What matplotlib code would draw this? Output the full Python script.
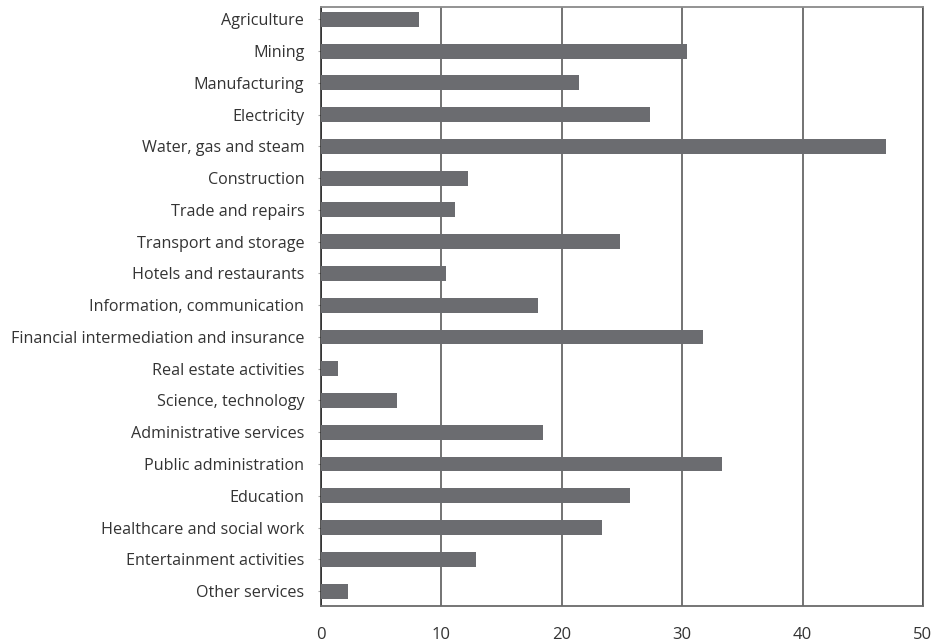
import matplotlib
matplotlib.use('Agg')
import matplotlib.pyplot as plt

# sectors, top to bottom as in the chart
sectors = ['Agriculture', 'Mining', 'Manufacturing', 'Electricity',
           'Water, gas and steam', 'Construction', 'Trade and repairs',
           'Transport and storage', 'Hotels and restaurants',
           'Information, communication',
           'Financial intermediation and insurance', 'Real estate activities',
           'Science, technology', 'Administrative services',
           'Public administration', 'Education', 'Healthcare and social work',
           'Entertainment activities', 'Other services']
values = [8.1, 30.4, 21.4, 27.3, 46.9, 12.2, 11.1, 24.8, 10.4, 18.0,
          31.7, 1.4, 6.3, 18.4, 33.3, 25.7, 23.3, 12.9, 2.2]
xticks = [0, 10, 20, 30, 40, 50]

plt.rcParams['font.family'] = ['Open Sans', 'DejaVu Sans']

fig = plt.figure(figsize=(9.37, 6.42), dpi=100)
ax = fig.add_axes([0.3426, 0.0561, 0.6424, 0.9330])

pos = list(range(len(sectors)))
ax.barh(pos, values, height=0.47, color='#6b6c70', zorder=3)

ax.set_xlim(0, 50)
ax.set_ylim(18.47, -0.39)
ax.set_xticks(xticks)
ax.set_yticks(pos)
ax.set_yticklabels(sectors)

ax.grid(axis='x', color='#4d4d4d', linewidth=1.1, zorder=1)
ax.grid(axis='y', visible=False)

ax.tick_params(axis='x', length=0, pad=15, labelsize=12, labelcolor='#333333')
ax.tick_params(axis='y', length=2, color='#aaaaaa', pad=10, labelsize=11.6,
               labelcolor='#333333')

ax.spines['left'].set_color('#222222')
ax.spines['left'].set_linewidth(1.1)
ax.spines['right'].set_color('#4d4d4d')
ax.spines['right'].set_linewidth(1.1)
ax.spines['top'].set_color('#8a8a8a')
ax.spines['top'].set_linewidth(1.3)
ax.spines['bottom'].set_color('#6a6a6a')
ax.spines['bottom'].set_linewidth(1.3)

plt.savefig('out.png', dpi=100)
